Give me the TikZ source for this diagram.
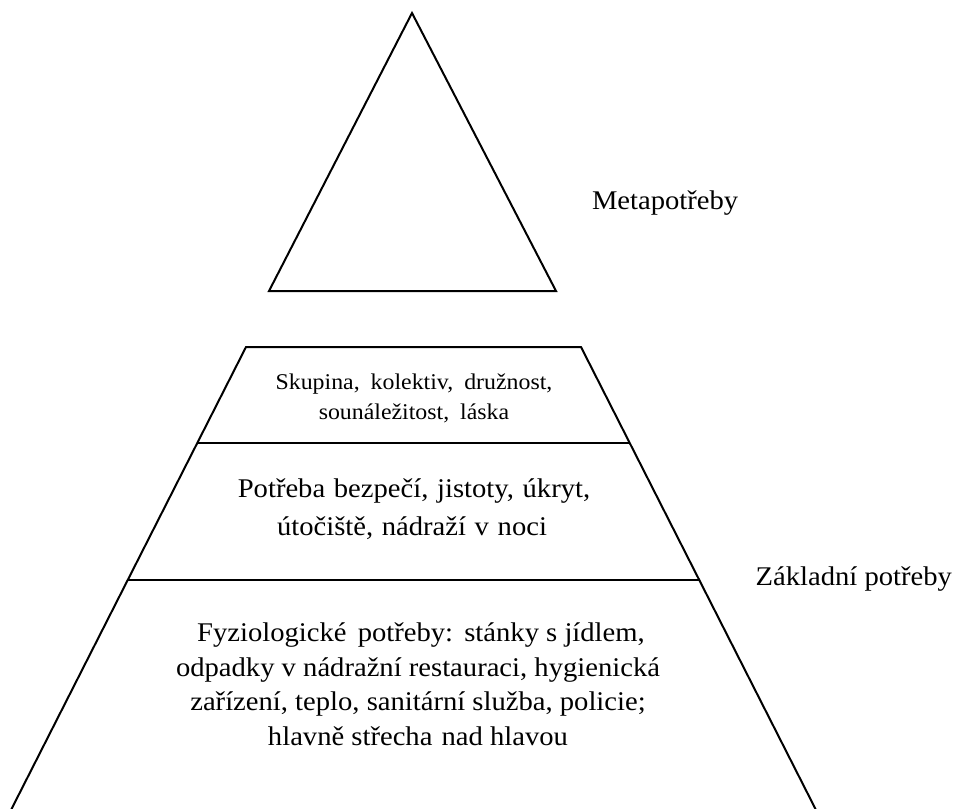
\documentclass[tikz,border=0pt]{standalone}
\usepackage{fontspec}
\setmainfont{Liberation Serif}[FakeStretch=1.06]
\usetikzlibrary{calc}
\newcommand{\wsp}[1]{\hspace{#1pt}}
\begin{document}
\begin{tikzpicture}[x=1pt,y=-1pt,line width=2pt,line join=miter,
  lbl/.style={inner sep=0pt,anchor=base},
  big/.style={lbl,font=\fontsize{27}{32}\selectfont},
  mid/.style={lbl,font=\fontsize{27}{32}\selectfont},
  small/.style={lbl,font=\fontsize{22.5}{27}\selectfont}]
\useasboundingbox (0,0) rectangle (955,808);
% top triangle
\coordinate (A) at (412,13);
\coordinate (B) at (269,291);
\coordinate (C) at (556,291);
\draw (A) -- (C) -- (B) -- cycle;
% trapezoid
\coordinate (T1) at (246,347);
\coordinate (T2) at (581,347);
\coordinate (BL) at (11,810);
\coordinate (BR) at (816,810);
\draw (BL) -- (T1) -- (T2) -- (BR);
\coordinate (L1a) at (197.3,443);
\coordinate (L1b) at (629.7,443);
\coordinate (L2a) at (127.7,580);
\coordinate (L2b) at (699.3,580);
\draw (L1a) -- (L1b);
\draw (L2a) -- (L2b);
% side labels
\node[big,anchor=base west] (meta) at (591,209) {Metapotřeby};
\node[big,anchor=base east] (zakl) at (953,585) {Základní potřeby};
% top layer
\node[small] (s1) at (414,389) {Skupina,\ \wsp{5}kolektiv,\ \wsp{5}družnost,};
\node[small] (s2) at (414,419) {sounáležitost,\ \wsp{5}láska};
% middle layer
\node[mid] (p1) at (414,497) {Potřeba\ \wsp{1.5}bezpečí,\ \wsp{1.5}jistoty,\ \wsp{1.5}úkryt,};
\node[mid] (p2) at (412,535) {útočiště,\ \wsp{1.5}nádraží\ \wsp{1.5}v\ \wsp{1.5}noci};
% bottom layer
\node[big] (f1) at (421,641) {Fyziologické\ \wsp{4}potřeby:\ \wsp{4}stánky s jídlem,};
\node[big] (f2) at (418,676) {odpadky v nádražní restauraci, hygienická};
\node[big] (f3) at (418,710) {zařízení, teplo, sanitární služba, policie;};
\node[big] (f4) at (418,745) {hlavně střecha\ \wsp{2}nad hlavou};
\end{tikzpicture}
\end{document}
